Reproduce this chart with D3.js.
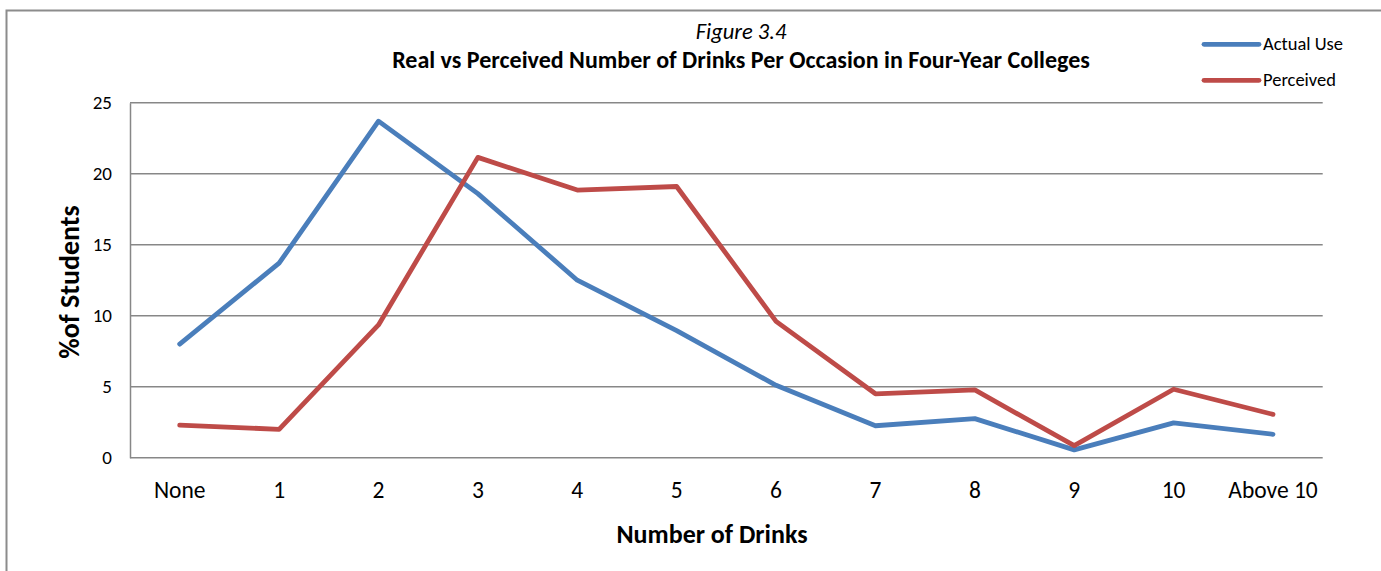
<!DOCTYPE html>
<html>
<head>
<meta charset="utf-8">
<script src="https://cdn.jsdelivr.net/npm/d3@7"></script>
<style>
  body { margin: 0; background: #fff; }
  svg { display: block; font-family: Carlito, Lato, "Open Sans", sans-serif; }
</style>
</head>
<body>
<div id="chartDiv"></div>
<script>
// categories on the x axis
const categories = ['None', '1', '2', '3', '4', '5', '6', '7', '8', '9', '10', 'Above 10'];
// % of students per series
const actualUse = [8.0, 13.7, 23.7, 18.6, 12.5, 8.95, 5.1, 2.25, 2.75, 0.55, 2.45, 1.65];
const perceived = [2.3, 2.0, 9.35, 21.15, 18.85, 19.1, 9.6, 4.5, 4.77, 0.85, 4.82, 3.05];
const yTicks = [0, 5, 10, 15, 20, 25];

const series = [
  {name: 'Actual Use', values: actualUse, color: '#4a7ebb'},
  {name: 'Perceived', values: perceived, color: '#be4b48'}
];

const width = 1381, height = 571;
const margin = {top: 102.7, right: 58.3, bottom: 113.3, left: 130};

const x = d3.scaleBand()
  .domain(categories)
  .range([margin.left, width - margin.right]);
const y = d3.scaleLinear()
  .domain([0, 25])
  .range([height - margin.bottom, margin.top]);

const svg = d3.create("svg")
  .attr("width", width)
  .attr("height", height);

// outer chart frame (runs off the right and bottom edges)
svg.append("rect")
  .attr("x", 6.5).attr("y", 10.5)
  .attr("width", width + 20).attr("height", height + 20)
  .attr("fill", "none")
  .attr("stroke", "#8c8c8c")
  .attr("stroke-width", 2);

// gridlines
svg.append("g")
  .selectAll("line")
  .data(yTicks)
  .join("line")
  .attr("x1", margin.left)
  .attr("x2", width - margin.right)
  .attr("y1", d => y(d))
  .attr("y2", d => y(d))
  .attr("stroke", "#878787")
  .attr("stroke-width", 1.5);

// y axis
svg.append("g")
  .attr("transform", `translate(${margin.left},0)`)
  .call(d3.axisLeft(y).tickValues(yTicks).tickSize(0).tickPadding(18))
  .call(g => g.select(".domain").attr("stroke", "#878787").attr("stroke-width", 1.5))
  .call(g => g.selectAll("text")
    .attr("font-size", 19)
    .attr("font-family", "Carlito, Lato, sans-serif")
    .attr("fill", "#000"));

// x axis labels
svg.append("g")
  .attr("transform", `translate(0,${height - margin.bottom})`)
  .call(d3.axisBottom(x).tickSize(0).tickPadding(24))
  .call(g => g.select(".domain").remove())
  .call(g => g.selectAll("text")
    .attr("font-size", 23.5)
    .attr("font-family", "Carlito, Lato, sans-serif")
    .attr("fill", "#000"));

// lines
const line = d3.line()
  .x((d, i) => x(categories[i]) + x.bandwidth() / 2)
  .y(d => y(d));

svg.append("g")
  .selectAll("path")
  .data(series)
  .join("path")
  .attr("fill", "none")
  .attr("stroke", d => d.color)
  .attr("stroke-width", 4.8)
  .attr("stroke-linecap", "round")
  .attr("stroke-linejoin", "round")
  .attr("d", d => line(d.values));

// titles
svg.append("text")
  .attr("x", 741).attr("y", 38.5)
  .attr("text-anchor", "middle")
  .attr("font-size", 22.5)
  .attr("font-style", "italic")
  .text("Figure 3.4");

svg.append("text")
  .attr("x", 741).attr("y", 68)
  .attr("text-anchor", "middle")
  .attr("font-size", 24)
  .attr("font-weight", "bold")
  .text("Real vs Perceived Number of Drinks Per Occasion in Four-Year Colleges");

svg.append("text")
  .attr("transform", "translate(79,282) rotate(-90)")
  .attr("text-anchor", "middle")
  .attr("font-size", 28)
  .attr("font-weight", "bold")
  .text("%of Students");

svg.append("text")
  .attr("x", 712).attr("y", 543)
  .attr("text-anchor", "middle")
  .attr("font-size", 26)
  .attr("font-weight", "bold")
  .text("Number of Drinks");

// legend
const legend = svg.append("g")
  .selectAll("g")
  .data(series)
  .join("g")
  .attr("transform", (d, i) => `translate(1204,${44.3 + i * 36})`);

legend.append("line")
  .attr("x1", 0).attr("x2", 55)
  .attr("stroke", d => d.color)
  .attr("stroke-width", 4.8)
  .attr("stroke-linecap", "round");

legend.append("text")
  .attr("x", 59).attr("y", 6)
  .attr("font-size", 18.5)
  .text(d => d.name);

document.getElementById("chartDiv").appendChild(svg.node());
</script>
</body>
</html>
